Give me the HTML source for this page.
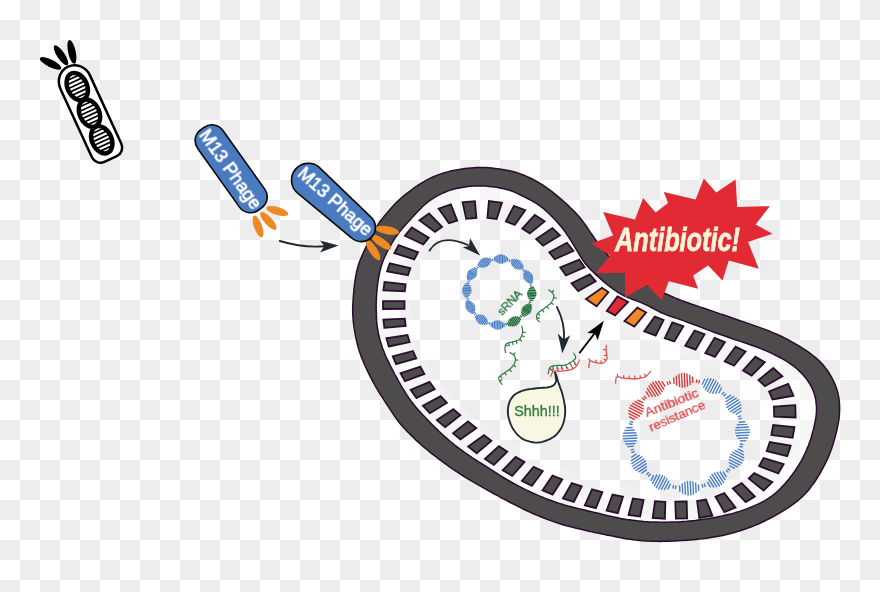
<!DOCTYPE html>
<html lang="en"><head><meta charset="utf-8"><title>M13 Phage sRNA antibiotic resistance silencing</title>
<style>html,body{margin:0;padding:0;background:#fff;overflow:hidden}body{width:880px;height:592px;font-family:"Liberation Sans",sans-serif}svg{display:block}text{font-family:"Liberation Sans",sans-serif}</style></head>
<body>
<svg width="880" height="592" viewBox="0 0 880 592">
<defs><pattern id="ck" width="40" height="40" patternUnits="userSpaceOnUse"><rect width="40" height="40" fill="#fff"/><rect x="20" width="20" height="20" fill="#ededed"/><rect y="20" width="20" height="20" fill="#ededed"/></pattern>
<filter id="gs" x="-20%" y="-50%" width="140%" height="200%"><feOffset dx="0" dy="0"/></filter>
<path id="inn" d="M480.0,185.9L483.0,185.9L486.0,186.1L489.0,186.4L491.9,186.7L494.9,187.1L497.9,187.6L500.8,188.2L503.8,188.8L506.7,189.5L509.5,190.3L512.3,191.3L515.1,192.4L517.7,193.7L520.4,195.0L523.1,196.3L525.8,197.7L528.4,199.0L531.1,200.4L533.7,201.9L536.3,203.4L538.8,205.1L541.2,206.8L543.5,208.7L545.8,210.6L548.0,212.7L550.2,214.7L552.3,216.9L554.4,219.0L556.4,221.2L558.4,223.4L560.4,225.7L562.3,228.0L564.1,230.4L565.8,232.8L567.5,235.3L569.2,237.8L570.8,240.4L572.3,242.9L573.9,245.5L575.4,248.1L577.0,250.7L578.5,253.2L580.1,255.8L581.7,258.3L583.3,260.8L585.1,263.2L586.9,265.6L588.9,267.8L591.0,270.0L593.1,272.0L595.3,274.1L597.5,276.1L599.8,278.1L602.0,280.1L604.3,282.1L606.5,284.0L608.9,285.9L611.3,287.7L613.7,289.5L616.2,291.2L618.7,292.8L621.3,294.3L623.9,295.7L626.6,296.9L629.4,298.1L632.2,299.3L635.0,300.3L637.8,301.4L640.6,302.4L643.3,303.6L646.1,304.8L648.8,306.1L651.4,307.5L654.0,308.9L656.7,310.3L659.3,311.7L662.0,313.0L664.8,314.1L667.6,315.2L670.4,316.2L673.2,317.2L676.1,318.1L678.9,319.1L681.7,320.1L684.6,321.1L687.4,322.2L690.2,323.2L693.0,324.3L695.8,325.3L698.6,326.4L701.4,327.4L704.2,328.5L707.1,329.6L709.9,330.6L712.7,331.7L715.5,332.7L718.3,333.7L721.1,334.8L724.0,335.8L726.8,336.7L729.6,337.7L732.5,338.7L735.3,339.7L738.2,340.6L741.0,341.6L743.9,342.5L746.7,343.5L749.5,344.5L752.4,345.5L755.2,346.5L758.0,347.5L760.8,348.6L763.6,349.7L766.3,350.9L769.1,352.1L771.8,353.4L774.5,354.8L777.2,356.1L779.8,357.5L782.5,358.9L785.1,360.4L787.6,361.9L790.1,363.6L792.6,365.3L795.0,367.1L797.2,369.0L799.4,371.1L801.5,373.2L803.6,375.4L805.5,377.7L807.3,380.1L808.9,382.5L810.5,385.1L811.9,387.7L813.1,390.4L814.1,393.2L814.9,396.0L815.6,398.9L816.0,401.9L816.3,404.9L816.5,407.8L816.5,410.8L816.3,413.8L816.0,416.7L815.5,419.7L815.0,422.6L814.3,425.6L813.7,428.5L812.9,431.4L812.1,434.3L811.3,437.2L810.4,440.0L809.4,442.8L808.3,445.7L807.2,448.4L806.0,451.2L804.8,453.9L803.5,456.6L802.1,459.3L800.7,461.9L799.1,464.5L797.5,467.0L795.9,469.5L794.2,472.0L792.4,474.4L790.6,476.8L788.8,479.2L786.8,481.5L784.9,483.7L782.8,485.9L780.8,488.1L778.6,490.2L776.4,492.2L774.2,494.2L771.8,496.0L769.4,497.7L766.8,499.3L764.3,500.8L761.6,502.3L759.0,503.6L756.2,504.9L753.5,506.1L750.7,507.3L747.9,508.4L745.1,509.4L742.3,510.4L739.5,511.4L736.6,512.2L733.7,513.1L730.8,513.9L727.9,514.6L725.0,515.3L722.1,516.0L719.1,516.6L716.2,517.2L713.2,517.8L710.3,518.3L707.3,518.8L704.4,519.2L701.4,519.6L698.4,520.0L695.4,520.4L692.4,520.7L689.5,521.0L686.5,521.3L683.5,521.5L680.5,521.7L677.5,521.9L674.5,522.0L671.5,522.1L668.5,522.2L665.5,522.2L662.5,522.2L659.5,522.2L656.5,522.1L653.5,522.0L650.5,521.9L647.5,521.7L644.5,521.5L641.5,521.2L638.5,520.9L635.5,520.6L632.6,520.2L629.6,519.8L626.6,519.4L623.7,518.9L620.7,518.4L617.8,517.8L614.8,517.2L611.9,516.6L608.9,515.9L606.0,515.3L603.1,514.6L600.2,513.8L597.3,513.1L594.4,512.4L591.4,511.7L588.5,511.0L585.6,510.3L582.7,509.6L579.8,508.9L576.8,508.2L573.9,507.5L571.0,506.7L568.1,506.0L565.2,505.2L562.3,504.3L559.5,503.5L556.6,502.5L553.8,501.5L551.0,500.5L548.2,499.5L545.4,498.4L542.6,497.2L539.8,496.1L537.1,494.9L534.3,493.7L531.6,492.5L528.9,491.2L526.1,489.9L523.5,488.6L520.8,487.2L518.1,485.8L515.5,484.4L512.8,483.0L510.2,481.5L507.6,480.0L505.0,478.5L502.4,477.0L499.9,475.4L497.4,473.7L494.9,472.1L492.4,470.5L489.9,468.8L487.3,467.2L484.8,465.6L482.2,464.0L479.7,462.4L477.2,460.8L474.6,459.2L472.1,457.6L469.6,455.9L467.1,454.2L464.7,452.5L462.3,450.7L459.8,448.9L457.5,447.1L455.1,445.3L452.7,443.4L450.4,441.5L448.1,439.5L445.9,437.6L443.6,435.6L441.4,433.5L439.2,431.5L437.1,429.4L434.9,427.3L432.8,425.2L430.7,423.1L428.6,420.9L426.5,418.8L424.4,416.6L422.4,414.4L420.4,412.2L418.4,409.9L416.4,407.7L414.5,405.4L412.6,403.0L410.8,400.7L409.0,398.2L407.3,395.7L405.7,393.2L404.2,390.7L402.6,388.1L401.1,385.5L399.6,382.9L398.1,380.3L396.7,377.6L395.2,375.0L393.8,372.4L392.4,369.7L391.0,367.1L389.7,364.4L388.4,361.7L387.1,359.0L385.8,356.2L384.7,353.5L383.6,350.7L382.5,347.9L381.6,345.0L380.7,342.2L379.8,339.3L379.1,336.4L378.4,333.5L377.9,330.5L377.4,327.6L377.0,324.6L376.7,321.6L376.5,318.6L376.4,315.6L376.3,312.6L376.2,309.6L376.2,306.6L376.2,303.6L376.3,300.6L376.5,297.6L376.6,294.6L376.9,291.7L377.1,288.7L377.5,285.7L377.8,282.7L378.3,279.7L378.8,276.8L379.4,273.8L380.0,270.9L380.8,268.0L381.6,265.2L382.6,262.3L383.6,259.5L384.8,256.8L386.1,254.1L387.4,251.4L388.8,248.7L390.3,246.1L391.8,243.5L393.3,240.9L394.9,238.4L396.6,235.9L398.3,233.5L400.2,231.1L402.1,228.8L404.0,226.6L406.0,224.3L408.0,222.1L410.1,219.9L412.1,217.6L414.1,215.4L416.1,213.2L418.2,211.0L420.3,208.9L422.4,206.8L424.6,204.8L426.9,202.8L429.3,201.0L431.7,199.3L434.2,197.7L436.8,196.1L439.4,194.7L442.1,193.4L444.9,192.2L447.6,191.1L450.5,190.1L453.3,189.3L456.2,188.6L459.2,187.9L462.1,187.4L465.1,186.9L468.0,186.5L471.0,186.2L474.0,186.0L477.0,185.9Z"/>
<clipPath id="incell"><use href="#inn"/></clipPath>
</defs>
<rect width="880" height="592" fill="url(#ck)"/>
<g clip-path="url(#incell)" fill="none" stroke="#fff" stroke-linejoin="round"><use href="#inn" stroke-opacity="0.18" stroke-width="68"/><use href="#inn" stroke-opacity="0.2" stroke-width="48"/><use href="#inn" stroke-opacity="0.22" stroke-width="28"/></g>
<path d="M480.0,167.5L483.0,167.5L486.0,167.6L489.0,167.8L492.0,168.1L495.0,168.4L497.9,168.8L500.9,169.2L503.9,169.7L506.8,170.2L509.8,170.7L512.7,171.4L515.6,172.2L518.4,173.1L521.2,174.1L524.0,175.3L526.7,176.4L529.5,177.7L532.2,179.0L534.8,180.3L537.5,181.8L540.1,183.3L542.6,184.9L545.1,186.6L547.5,188.3L550.0,190.1L552.3,191.9L554.7,193.8L557.0,195.7L559.3,197.6L561.6,199.6L563.8,201.5L566.1,203.6L568.3,205.6L570.4,207.7L572.6,209.8L574.7,211.9L576.7,214.1L578.7,216.3L580.6,218.6L582.5,221.0L584.3,223.4L586.0,225.8L587.8,228.3L589.4,230.8L591.1,233.3L592.8,235.7L594.5,238.2L596.3,240.6L598.1,243.0L599.9,245.4L601.8,247.8L603.6,250.1L605.6,252.4L607.5,254.7L609.5,256.9L611.5,259.2L613.6,261.3L615.7,263.5L617.9,265.6L620.1,267.6L622.3,269.5L624.7,271.4L627.1,273.2L629.5,274.9L632.0,276.6L634.6,278.1L637.2,279.6L639.8,281.1L642.4,282.6L645.1,284.0L647.8,285.3L650.4,286.7L653.1,288.0L655.9,289.3L658.6,290.6L661.3,291.8L664.0,293.1L666.8,294.3L669.5,295.5L672.3,296.7L675.0,297.9L677.8,299.0L680.6,300.1L683.4,301.2L686.2,302.2L689.1,303.2L691.9,304.2L694.8,305.1L697.6,306.1L700.4,307.1L703.3,308.0L706.1,309.0L709.0,310.0L711.8,310.9L714.6,311.9L717.5,312.9L720.3,313.9L723.2,314.8L726.0,315.8L728.9,316.8L731.7,317.8L734.5,318.7L737.4,319.7L740.2,320.7L743.1,321.6L745.9,322.6L748.7,323.6L751.6,324.6L754.4,325.6L757.2,326.6L760.1,327.6L762.9,328.6L765.7,329.6L768.5,330.7L771.3,331.9L774.0,333.1L776.8,334.3L779.5,335.5L782.2,336.8L784.9,338.1L787.6,339.5L790.2,340.9L792.9,342.3L795.5,343.8L798.0,345.4L800.6,347.0L803.1,348.6L805.6,350.2L808.1,351.9L810.5,353.7L812.9,355.5L815.3,357.4L817.5,359.3L819.7,361.4L821.8,363.5L823.8,365.7L825.6,368.1L827.4,370.5L829.0,373.0L830.6,375.6L832.0,378.2L833.4,380.8L834.7,383.6L835.8,386.3L836.8,389.1L837.7,392.0L838.3,394.9L838.9,397.8L839.2,400.8L839.5,403.8L839.6,406.7L839.6,409.7L839.5,412.7L839.3,415.7L839.0,418.7L838.6,421.7L838.0,424.6L837.4,427.6L836.8,430.5L836.1,433.4L835.3,436.3L834.5,439.2L833.7,442.1L832.8,444.9L831.9,447.8L830.9,450.6L829.8,453.4L828.7,456.2L827.5,459.0L826.2,461.7L824.9,464.4L823.5,467.0L822.1,469.7L820.6,472.3L819.1,474.9L817.5,477.4L815.9,480.0L814.3,482.5L812.5,484.9L810.7,487.3L808.9,489.7L806.9,491.9L804.9,494.1L802.8,496.3L800.6,498.3L798.3,500.3L796.0,502.1L793.6,503.9L791.2,505.7L788.7,507.3L786.2,509.0L783.6,510.6L781.1,512.2L778.5,513.7L775.9,515.2L773.3,516.6L770.6,518.0L767.9,519.4L765.3,520.7L762.5,522.0L759.8,523.3L757.0,524.5L754.3,525.6L751.5,526.7L748.7,527.8L745.9,528.8L743.0,529.8L740.2,530.7L737.3,531.6L734.4,532.5L731.5,533.3L728.6,534.0L725.7,534.7L722.8,535.4L719.8,536.0L716.9,536.6L713.9,537.1L711.0,537.6L708.0,538.0L705.0,538.4L702.1,538.8L699.1,539.1L696.1,539.4L693.1,539.7L690.1,540.0L687.1,540.2L684.1,540.4L681.1,540.6L678.1,540.8L675.1,541.0L672.1,541.1L669.1,541.2L666.1,541.3L663.1,541.3L660.1,541.4L657.1,541.3L654.1,541.3L651.1,541.2L648.1,541.1L645.1,540.9L642.1,540.7L639.1,540.4L636.2,540.1L633.2,539.7L630.2,539.3L627.2,538.9L624.3,538.4L621.3,537.8L618.4,537.3L615.4,536.7L612.5,536.1L609.5,535.5L606.6,534.9L603.7,534.3L600.7,533.7L597.8,533.1L594.8,532.5L591.9,531.8L589.0,531.2L586.0,530.5L583.1,529.8L580.2,529.1L577.3,528.4L574.4,527.7L571.5,527.0L568.5,526.2L565.6,525.5L562.8,524.7L559.9,523.8L557.0,522.9L554.2,521.9L551.4,520.9L548.5,519.9L545.7,518.8L543.0,517.7L540.2,516.5L537.4,515.4L534.6,514.2L531.9,513.0L529.2,511.7L526.4,510.5L523.7,509.2L521.0,507.9L518.3,506.6L515.6,505.2L513.0,503.9L510.3,502.5L507.6,501.1L505.0,499.7L502.3,498.3L499.7,496.8L497.1,495.4L494.4,494.0L491.8,492.5L489.1,491.1L486.5,489.6L483.9,488.2L481.3,486.7L478.7,485.2L476.1,483.7L473.5,482.2L470.9,480.7L468.3,479.1L465.8,477.6L463.2,476.0L460.7,474.4L458.2,472.7L455.7,471.1L453.2,469.4L450.7,467.7L448.2,465.9L445.8,464.2L443.4,462.4L441.0,460.7L438.6,458.8L436.2,457.0L433.8,455.2L431.4,453.3L429.1,451.4L426.8,449.5L424.5,447.6L422.2,445.6L420.0,443.6L417.7,441.6L415.5,439.6L413.4,437.5L411.2,435.4L409.1,433.3L407.0,431.2L404.9,429.0L402.9,426.8L400.9,424.5L399.0,422.2L397.2,419.8L395.4,417.4L393.7,414.9L392.1,412.4L390.4,409.9L388.8,407.4L387.1,404.9L385.5,402.4L383.9,399.9L382.2,397.3L380.6,394.8L379.0,392.3L377.5,389.7L375.9,387.1L374.5,384.5L373.0,381.9L371.6,379.2L370.2,376.6L368.9,373.9L367.6,371.2L366.3,368.5L365.0,365.7L363.8,363.0L362.7,360.2L361.6,357.4L360.5,354.6L359.5,351.8L358.6,348.9L357.8,346.0L357.1,343.1L356.4,340.2L355.8,337.3L355.2,334.3L354.7,331.4L354.2,328.4L353.8,325.4L353.4,322.5L353.1,319.5L352.9,316.5L352.7,313.5L352.7,310.5L352.7,307.5L352.8,304.5L353.0,301.5L353.2,298.5L353.4,295.5L353.7,292.5L353.9,289.5L354.3,286.6L354.6,283.6L355.0,280.6L355.5,277.6L356.0,274.7L356.6,271.8L357.3,268.8L358.1,266.0L359.1,263.1L360.1,260.3L361.2,257.5L362.4,254.8L363.6,252.0L364.9,249.3L366.2,246.6L367.5,243.9L368.9,241.2L370.3,238.6L371.6,235.9L373.0,233.2L374.5,230.6L376.0,228.0L377.5,225.4L379.1,222.9L380.8,220.5L382.7,218.1L384.6,215.8L386.5,213.5L388.5,211.2L390.4,209.0L392.4,206.8L394.5,204.5L396.6,202.4L398.7,200.3L400.9,198.3L403.2,196.3L405.5,194.4L407.9,192.6L410.3,190.8L412.7,189.0L415.1,187.2L417.6,185.5L420.1,183.9L422.6,182.3L425.2,180.8L427.8,179.4L430.5,178.1L433.3,176.8L436.0,175.7L438.8,174.6L441.7,173.6L444.5,172.7L447.4,171.9L450.3,171.1L453.2,170.5L456.2,169.9L459.1,169.4L462.1,168.9L465.1,168.5L468.0,168.2L471.0,167.9L474.0,167.7L477.0,167.5Z M480.0,185.9L483.0,185.9L486.0,186.1L489.0,186.4L491.9,186.7L494.9,187.1L497.9,187.6L500.8,188.2L503.8,188.8L506.7,189.5L509.5,190.3L512.3,191.3L515.1,192.4L517.7,193.7L520.4,195.0L523.1,196.3L525.8,197.7L528.4,199.0L531.1,200.4L533.7,201.9L536.3,203.4L538.8,205.1L541.2,206.8L543.5,208.7L545.8,210.6L548.0,212.7L550.2,214.7L552.3,216.9L554.4,219.0L556.4,221.2L558.4,223.4L560.4,225.7L562.3,228.0L564.1,230.4L565.8,232.8L567.5,235.3L569.2,237.8L570.8,240.4L572.3,242.9L573.9,245.5L575.4,248.1L577.0,250.7L578.5,253.2L580.1,255.8L581.7,258.3L583.3,260.8L585.1,263.2L586.9,265.6L588.9,267.8L591.0,270.0L593.1,272.0L595.3,274.1L597.5,276.1L599.8,278.1L602.0,280.1L604.3,282.1L606.5,284.0L608.9,285.9L611.3,287.7L613.7,289.5L616.2,291.2L618.7,292.8L621.3,294.3L623.9,295.7L626.6,296.9L629.4,298.1L632.2,299.3L635.0,300.3L637.8,301.4L640.6,302.4L643.3,303.6L646.1,304.8L648.8,306.1L651.4,307.5L654.0,308.9L656.7,310.3L659.3,311.7L662.0,313.0L664.8,314.1L667.6,315.2L670.4,316.2L673.2,317.2L676.1,318.1L678.9,319.1L681.7,320.1L684.6,321.1L687.4,322.2L690.2,323.2L693.0,324.3L695.8,325.3L698.6,326.4L701.4,327.4L704.2,328.5L707.1,329.6L709.9,330.6L712.7,331.7L715.5,332.7L718.3,333.7L721.1,334.8L724.0,335.8L726.8,336.7L729.6,337.7L732.5,338.7L735.3,339.7L738.2,340.6L741.0,341.6L743.9,342.5L746.7,343.5L749.5,344.5L752.4,345.5L755.2,346.5L758.0,347.5L760.8,348.6L763.6,349.7L766.3,350.9L769.1,352.1L771.8,353.4L774.5,354.8L777.2,356.1L779.8,357.5L782.5,358.9L785.1,360.4L787.6,361.9L790.1,363.6L792.6,365.3L795.0,367.1L797.2,369.0L799.4,371.1L801.5,373.2L803.6,375.4L805.5,377.7L807.3,380.1L808.9,382.5L810.5,385.1L811.9,387.7L813.1,390.4L814.1,393.2L814.9,396.0L815.6,398.9L816.0,401.9L816.3,404.9L816.5,407.8L816.5,410.8L816.3,413.8L816.0,416.7L815.5,419.7L815.0,422.6L814.3,425.6L813.7,428.5L812.9,431.4L812.1,434.3L811.3,437.2L810.4,440.0L809.4,442.8L808.3,445.7L807.2,448.4L806.0,451.2L804.8,453.9L803.5,456.6L802.1,459.3L800.7,461.9L799.1,464.5L797.5,467.0L795.9,469.5L794.2,472.0L792.4,474.4L790.6,476.8L788.8,479.2L786.8,481.5L784.9,483.7L782.8,485.9L780.8,488.1L778.6,490.2L776.4,492.2L774.2,494.2L771.8,496.0L769.4,497.7L766.8,499.3L764.3,500.8L761.6,502.3L759.0,503.6L756.2,504.9L753.5,506.1L750.7,507.3L747.9,508.4L745.1,509.4L742.3,510.4L739.5,511.4L736.6,512.2L733.7,513.1L730.8,513.9L727.9,514.6L725.0,515.3L722.1,516.0L719.1,516.6L716.2,517.2L713.2,517.8L710.3,518.3L707.3,518.8L704.4,519.2L701.4,519.6L698.4,520.0L695.4,520.4L692.4,520.7L689.5,521.0L686.5,521.3L683.5,521.5L680.5,521.7L677.5,521.9L674.5,522.0L671.5,522.1L668.5,522.2L665.5,522.2L662.5,522.2L659.5,522.2L656.5,522.1L653.5,522.0L650.5,521.9L647.5,521.7L644.5,521.5L641.5,521.2L638.5,520.9L635.5,520.6L632.6,520.2L629.6,519.8L626.6,519.4L623.7,518.9L620.7,518.4L617.8,517.8L614.8,517.2L611.9,516.6L608.9,515.9L606.0,515.3L603.1,514.6L600.2,513.8L597.3,513.1L594.4,512.4L591.4,511.7L588.5,511.0L585.6,510.3L582.7,509.6L579.8,508.9L576.8,508.2L573.9,507.5L571.0,506.7L568.1,506.0L565.2,505.2L562.3,504.3L559.5,503.5L556.6,502.5L553.8,501.5L551.0,500.5L548.2,499.5L545.4,498.4L542.6,497.2L539.8,496.1L537.1,494.9L534.3,493.7L531.6,492.5L528.9,491.2L526.1,489.9L523.5,488.6L520.8,487.2L518.1,485.8L515.5,484.4L512.8,483.0L510.2,481.5L507.6,480.0L505.0,478.5L502.4,477.0L499.9,475.4L497.4,473.7L494.9,472.1L492.4,470.5L489.9,468.8L487.3,467.2L484.8,465.6L482.2,464.0L479.7,462.4L477.2,460.8L474.6,459.2L472.1,457.6L469.6,455.9L467.1,454.2L464.7,452.5L462.3,450.7L459.8,448.9L457.5,447.1L455.1,445.3L452.7,443.4L450.4,441.5L448.1,439.5L445.9,437.6L443.6,435.6L441.4,433.5L439.2,431.5L437.1,429.4L434.9,427.3L432.8,425.2L430.7,423.1L428.6,420.9L426.5,418.8L424.4,416.6L422.4,414.4L420.4,412.2L418.4,409.9L416.4,407.7L414.5,405.4L412.6,403.0L410.8,400.7L409.0,398.2L407.3,395.7L405.7,393.2L404.2,390.7L402.6,388.1L401.1,385.5L399.6,382.9L398.1,380.3L396.7,377.6L395.2,375.0L393.8,372.4L392.4,369.7L391.0,367.1L389.7,364.4L388.4,361.7L387.1,359.0L385.8,356.2L384.7,353.5L383.6,350.7L382.5,347.9L381.6,345.0L380.7,342.2L379.8,339.3L379.1,336.4L378.4,333.5L377.9,330.5L377.4,327.6L377.0,324.6L376.7,321.6L376.5,318.6L376.4,315.6L376.3,312.6L376.2,309.6L376.2,306.6L376.2,303.6L376.3,300.6L376.5,297.6L376.6,294.6L376.9,291.7L377.1,288.7L377.5,285.7L377.8,282.7L378.3,279.7L378.8,276.8L379.4,273.8L380.0,270.9L380.8,268.0L381.6,265.2L382.6,262.3L383.6,259.5L384.8,256.8L386.1,254.1L387.4,251.4L388.8,248.7L390.3,246.1L391.8,243.5L393.3,240.9L394.9,238.4L396.6,235.9L398.3,233.5L400.2,231.1L402.1,228.8L404.0,226.6L406.0,224.3L408.0,222.1L410.1,219.9L412.1,217.6L414.1,215.4L416.1,213.2L418.2,211.0L420.3,208.9L422.4,206.8L424.6,204.8L426.9,202.8L429.3,201.0L431.7,199.3L434.2,197.7L436.8,196.1L439.4,194.7L442.1,193.4L444.9,192.2L447.6,191.1L450.5,190.1L453.3,189.3L456.2,188.6L459.2,187.9L462.1,187.4L465.1,186.9L468.0,186.5L471.0,186.2L474.0,186.0L477.0,185.9Z" fill="#4d4b4b" fill-rule="evenodd" stroke="#2a0d2e" stroke-width="1.5" stroke-linejoin="round"/>
<polygon points="383.4,290.4 404.8,291.4 405.7,284.4 384.5,281.9" fill="#4d4b4b" stroke="#2a0d2e" stroke-width="1.8" stroke-linejoin="miter"/>
<polygon points="387.1,271.4 408.0,275.2 410.4,268.2 389.8,263.3" fill="#4d4b4b" stroke="#2a0d2e" stroke-width="1.8" stroke-linejoin="miter"/>
<polygon points="394.3,253.2 414.3,259.4 418.1,252.3 398.6,245.2" fill="#4d4b4b" stroke="#2a0d2e" stroke-width="1.8" stroke-linejoin="miter"/>
<polygon points="404.8,235.8 423.3,244.3 428.8,237.7 411.7,227.5" fill="#4d4b4b" stroke="#2a0d2e" stroke-width="1.8" stroke-linejoin="miter"/>
<polygon points="419.4,220.3 435.0,231.9 442.1,226.9 429.1,213.5" fill="#4d4b4b" stroke="#2a0d2e" stroke-width="1.8" stroke-linejoin="miter"/>
<polygon points="438.5,208.6 448.9,223.3 457.2,220.6 450.9,204.4" fill="#4d4b4b" stroke="#2a0d2e" stroke-width="1.8" stroke-linejoin="miter"/>
<polygon points="462.6,202.3 466.2,218.9 476.4,218.0 474.9,201.2" fill="#4d4b4b" stroke="#2a0d2e" stroke-width="1.8" stroke-linejoin="miter"/>
<polygon points="488.9,201.1 487.4,218.0 496.7,219.1 501.9,202.7" fill="#4d4b4b" stroke="#2a0d2e" stroke-width="1.8" stroke-linejoin="miter"/>
<polygon points="513.9,205.9 505.8,221.5 514.8,224.9 525.3,210.1" fill="#4d4b4b" stroke="#2a0d2e" stroke-width="1.8" stroke-linejoin="miter"/>
<polygon points="534.8,214.9 522.3,228.6 529.7,233.5 544.7,221.4" fill="#4d4b4b" stroke="#2a0d2e" stroke-width="1.8" stroke-linejoin="miter"/>
<polygon points="552.5,228.1 536.2,239.1 543.1,245.7 560.0,235.3" fill="#4d4b4b" stroke="#2a0d2e" stroke-width="1.8" stroke-linejoin="miter"/>
<polygon points="567.0,242.8 549.3,252.3 554.8,259.2 573.5,250.9" fill="#4d4b4b" stroke="#2a0d2e" stroke-width="1.8" stroke-linejoin="miter"/>
<polygon points="579.3,259.6 560.3,267.5 565.9,275.5 584.6,267.3" fill="#4d4b4b" stroke="#2a0d2e" stroke-width="1.8" stroke-linejoin="miter"/>
<polygon points="589.8,274.4 571.5,283.2 578.2,291.0 595.7,281.3" fill="#4d4b4b" stroke="#2a0d2e" stroke-width="1.8" stroke-linejoin="miter"/>
<polygon points="602.1,287.8 586.0,298.9 596.6,306.3 608.4,292.1" fill="#ee8a25" stroke="#2a0d2e" stroke-width="1.8" stroke-linejoin="miter"/>
<polygon points="617.6,296.4 606.8,310.9 615.1,315.4 628.1,301.9" fill="#e12a33" stroke="#2a0d2e" stroke-width="1.8" stroke-linejoin="miter"/>
<polygon points="637.4,307.6 624.5,321.1 634.4,326.5 646.1,312.4" fill="#ee8a25" stroke="#2a0d2e" stroke-width="1.8" stroke-linejoin="miter"/>
<polygon points="654.8,316.6 644.2,331.3 655.7,335.6 663.6,319.9" fill="#4d4b4b" stroke="#2a0d2e" stroke-width="1.8" stroke-linejoin="miter"/>
<polygon points="672.3,322.4 664.8,338.3 674.3,341.5 683.4,326.2" fill="#4d4b4b" stroke="#2a0d2e" stroke-width="1.8" stroke-linejoin="miter"/>
<polygon points="694.6,330.5 685.2,345.7 695.6,349.6 704.6,334.2" fill="#4d4b4b" stroke="#2a0d2e" stroke-width="1.8" stroke-linejoin="miter"/>
<polygon points="714.6,337.9 705.3,353.1 715.0,357.0 725.0,342.1" fill="#4d4b4b" stroke="#2a0d2e" stroke-width="1.8" stroke-linejoin="miter"/>
<polygon points="735.5,346.7 724.7,361.3 734.0,365.7 745.6,351.5" fill="#4d4b4b" stroke="#2a0d2e" stroke-width="1.8" stroke-linejoin="miter"/>
<polygon points="755.4,356.7 743.0,370.5 751.6,375.6 764.8,362.3" fill="#4d4b4b" stroke="#2a0d2e" stroke-width="1.8" stroke-linejoin="miter"/>
<polygon points="773.3,368.0 758.4,380.1 764.9,386.2 782.4,376.4" fill="#4d4b4b" stroke="#2a0d2e" stroke-width="1.8" stroke-linejoin="miter"/>
<polygon points="788.2,383.8 769.1,391.5 772.5,399.4 793.5,395.7" fill="#4d4b4b" stroke="#2a0d2e" stroke-width="1.8" stroke-linejoin="miter"/>
<polygon points="795.3,405.2 773.9,406.6 774.2,416.7 795.6,417.5" fill="#4d4b4b" stroke="#2a0d2e" stroke-width="1.8" stroke-linejoin="miter"/>
<polygon points="794.5,427.1 773.2,425.0 771.4,435.1 792.6,437.8" fill="#4d4b4b" stroke="#2a0d2e" stroke-width="1.8" stroke-linejoin="miter"/>
<polygon points="790.7,445.7 769.8,442.1 766.7,451.0 787.2,456.1" fill="#4d4b4b" stroke="#2a0d2e" stroke-width="1.8" stroke-linejoin="miter"/>
<polygon points="783.6,464.2 763.6,458.0 759.1,466.1 778.3,473.5" fill="#4d4b4b" stroke="#2a0d2e" stroke-width="1.8" stroke-linejoin="miter"/>
<polygon points="772.4,482.1 754.2,473.1 748.7,478.5 763.6,490.6" fill="#4d4b4b" stroke="#2a0d2e" stroke-width="1.8" stroke-linejoin="miter"/>
<polygon points="754.8,496.5 741.7,483.1 732.8,488.4 745.7,502.0" fill="#4d4b4b" stroke="#2a0d2e" stroke-width="1.8" stroke-linejoin="miter"/>
<polygon points="735.5,507.5 724.3,493.1 715.5,496.7 724.4,512.1" fill="#4d4b4b" stroke="#2a0d2e" stroke-width="1.8" stroke-linejoin="miter"/>
<polygon points="712.4,515.7 706.0,499.6 697.1,501.0 699.3,517.9" fill="#4d4b4b" stroke="#2a0d2e" stroke-width="1.8" stroke-linejoin="miter"/>
<polygon points="687.1,518.3 686.7,501.4 675.3,501.7 675.9,518.6" fill="#4d4b4b" stroke="#2a0d2e" stroke-width="1.8" stroke-linejoin="miter"/>
<polygon points="664.9,518.7 665.4,501.8 655.0,501.2 652.7,518.0" fill="#4d4b4b" stroke="#2a0d2e" stroke-width="1.8" stroke-linejoin="miter"/>
<polygon points="640.1,516.6 643.6,499.9 632.9,498.4 628.5,514.9" fill="#4d4b4b" stroke="#2a0d2e" stroke-width="1.8" stroke-linejoin="miter"/>
<polygon points="617.9,513.1 623.0,496.6 612.5,494.5 606.6,510.7" fill="#4d4b4b" stroke="#2a0d2e" stroke-width="1.8" stroke-linejoin="miter"/>
<polygon points="595.9,508.2 602.4,492.1 592.0,489.3 584.8,505.3" fill="#4d4b4b" stroke="#2a0d2e" stroke-width="1.8" stroke-linejoin="miter"/>
<polygon points="573.8,502.0 581.7,486.3 571.8,483.0 562.9,498.4" fill="#4d4b4b" stroke="#2a0d2e" stroke-width="1.8" stroke-linejoin="miter"/>
<polygon points="552.7,494.6 562.3,479.5 552.5,475.5 542.5,490.4" fill="#4d4b4b" stroke="#2a0d2e" stroke-width="1.8" stroke-linejoin="miter"/>
<polygon points="532.0,485.8 542.8,471.2 533.6,466.8 521.9,481.0" fill="#4d4b4b" stroke="#2a0d2e" stroke-width="1.8" stroke-linejoin="miter"/>
<polygon points="512.2,475.8 524.5,461.9 515.7,456.9 502.7,470.3" fill="#4d4b4b" stroke="#2a0d2e" stroke-width="1.8" stroke-linejoin="miter"/>
<polygon points="493.9,464.9 507.3,451.7 498.9,446.2 484.9,459.0" fill="#4d4b4b" stroke="#2a0d2e" stroke-width="1.8" stroke-linejoin="miter"/>
<polygon points="476.7,453.3 491.4,440.9 484.0,435.1 468.2,446.5" fill="#4d4b4b" stroke="#2a0d2e" stroke-width="1.8" stroke-linejoin="miter"/>
<polygon points="460.3,439.4 476.3,428.2 468.1,421.3 453.0,433.3" fill="#4d4b4b" stroke="#2a0d2e" stroke-width="1.8" stroke-linejoin="miter"/>
<polygon points="445.0,427.2 460.3,415.3 453.3,409.2 436.8,420.1" fill="#4d4b4b" stroke="#2a0d2e" stroke-width="1.8" stroke-linejoin="miter"/>
<polygon points="429.8,413.2 446.9,402.9 440.6,396.1 422.9,405.7" fill="#4d4b4b" stroke="#2a0d2e" stroke-width="1.8" stroke-linejoin="miter"/>
<polygon points="416.5,398.0 434.8,389.1 429.5,381.8 410.6,389.9" fill="#4d4b4b" stroke="#2a0d2e" stroke-width="1.8" stroke-linejoin="miter"/>
<polygon points="405.0,381.1 424.4,373.9 420.3,366.7 400.5,373.2" fill="#4d4b4b" stroke="#2a0d2e" stroke-width="1.8" stroke-linejoin="miter"/>
<polygon points="396.1,364.1 416.3,358.4 413.0,351.0 392.7,356.4" fill="#4d4b4b" stroke="#2a0d2e" stroke-width="1.8" stroke-linejoin="miter"/>
<polygon points="388.8,346.5 409.6,342.1 407.5,335.1 386.4,338.3" fill="#4d4b4b" stroke="#2a0d2e" stroke-width="1.8" stroke-linejoin="miter"/>
<polygon points="384.4,327.9 405.7,325.9 404.8,318.6 383.4,319.6" fill="#4d4b4b" stroke="#2a0d2e" stroke-width="1.8" stroke-linejoin="miter"/>
<polygon points="383.0,309.0 404.5,308.8 404.5,301.1 383.0,301.1" fill="#4d4b4b" stroke="#2a0d2e" stroke-width="1.8" stroke-linejoin="miter"/>
<polygon points="591.2,243.4 613.1,235.6 603.1,211.9 635.0,219.4 643.1,198.1 655.6,212.5 668.1,203.1 663.8,191.9 695.6,199.4 703.8,178.5 716.2,192.5 735.6,179.4 737.2,206.9 769.8,206.2 755.6,224.4 772.5,233.8 748.1,241.9 758.8,268.8 728.8,260.6 722.5,280.6 708.1,265.6 693.1,275.6 698.1,288.8 668.8,281.2 661.9,300.0 646.9,285.0 625.0,297.5 625.0,273.1 595.6,273.1 610.0,255.6" fill="#e12a33"/>
<text filter="url(#gs)" x="677.5" y="251" text-anchor="middle" font-size="34" font-weight="bold" font-style="italic" fill="#fdf3d8" stroke="#fdf3d8" stroke-width="0.8" textLength="125" lengthAdjust="spacingAndGlyphs">Antibiotic!</text>
<ellipse cx="277.3" cy="211.0" rx="11.5" ry="4.0" fill="#ee8a25" transform="rotate(17.0 277.3 211.0)"/><ellipse cx="268.4" cy="220.9" rx="11.5" ry="4.0" fill="#ee8a25" transform="rotate(48.0 268.4 220.9)"/><ellipse cx="258.0" cy="226.4" rx="11.5" ry="4.0" fill="#ee8a25" transform="rotate(70.0 258.0 226.4)"/><g transform="translate(231.2,168.8) rotate(54.5)"><rect x="-49.5" y="-15.5" width="99.0" height="31.0" rx="13.5" fill="#4a7abf" stroke="#0a0a0a" stroke-width="1.6"/><text filter="url(#gs)" x="0.0" y="6.5" text-anchor="middle" font-size="18.3" fill="#fff" stroke="#fff" stroke-width="0.7" textLength="93.0" lengthAdjust="spacingAndGlyphs">M13 Phage</text></g>
<ellipse cx="387.2" cy="230.3" rx="12.0" ry="4.0" fill="#ee8a25" transform="rotate(10.0 387.2 230.3)"/><ellipse cx="381.2" cy="242.2" rx="12.0" ry="4.0" fill="#ee8a25" transform="rotate(35.0 381.2 242.2)"/><ellipse cx="373.0" cy="249.9" rx="12.0" ry="4.0" fill="#ee8a25" transform="rotate(57.0 373.0 249.9)"/><g transform="translate(333.8,202.9) rotate(41.8)"><path d="M-34.2,-16.8 L36.8,-14.2 A14.2,14.2 0 0 1 36.8,14.2 L-34.2,16.8 A16.8,16.8 0 0 1 -34.2,-16.8 Z" fill="#4a7abf" stroke="#0a0a0a" stroke-width="1.6"/><text filter="url(#gs)" x="0.2" y="4.2" text-anchor="middle" font-size="18.3" fill="#fff" stroke="#fff" stroke-width="0.7" textLength="93.0" lengthAdjust="spacingAndGlyphs">M13 Phage</text></g>
<ellipse cx="50.6" cy="63.4" rx="11.8" ry="3.8" fill="#000" transform="rotate(26.5 50.6 63.4)"/><ellipse cx="61.0" cy="55.3" rx="11.7" ry="3.8" fill="#000" transform="rotate(56.0 61.0 55.3)"/><ellipse cx="71.9" cy="51.9" rx="12.2" ry="3.8" fill="#000" transform="rotate(78.0 71.9 51.9)"/><g transform="translate(89.5,113.2) rotate(65.3)"><path d="M-34.2,-16.2 L41.0,-16.2 A9.5,9.5 0 0 1 50.5,-6.8 L50.5,6.8 A9.5,9.5 0 0 1 41.0,16.2 L-34.2,16.2 A17.1,16.2 0 0 1 -34.2,-16.2 Z" fill="#fff" stroke="#000" stroke-width="2.5"/><line x1="-39.0" y1="-7.2" x2="-39.0" y2="7.2" stroke="#000" stroke-width="1.7"/><line x1="-35.1" y1="-8.9" x2="-35.1" y2="8.9" stroke="#000" stroke-width="1.7"/><line x1="-31.2" y1="-9.7" x2="-31.2" y2="9.7" stroke="#000" stroke-width="1.7"/><line x1="-27.4" y1="-9.7" x2="-27.4" y2="9.7" stroke="#000" stroke-width="1.7"/><line x1="-23.5" y1="-8.9" x2="-23.5" y2="8.9" stroke="#000" stroke-width="1.7"/><line x1="-19.6" y1="-7.2" x2="-19.6" y2="7.2" stroke="#000" stroke-width="1.7"/><ellipse cx="-29.3" cy="0" rx="14.3" ry="9.8" fill="none" stroke="#000" stroke-width="4.4"/><line x1="-9.8" y1="-7.2" x2="-9.8" y2="7.2" stroke="#000" stroke-width="1.7"/><line x1="-5.8" y1="-8.9" x2="-5.8" y2="8.9" stroke="#000" stroke-width="1.7"/><line x1="-1.9" y1="-9.7" x2="-1.9" y2="9.7" stroke="#000" stroke-width="1.7"/><line x1="1.9" y1="-9.7" x2="1.9" y2="9.7" stroke="#000" stroke-width="1.7"/><line x1="5.8" y1="-8.9" x2="5.8" y2="8.9" stroke="#000" stroke-width="1.7"/><line x1="9.8" y1="-7.2" x2="9.8" y2="7.2" stroke="#000" stroke-width="1.7"/><ellipse cx="0.0" cy="0" rx="14.3" ry="9.8" fill="none" stroke="#000" stroke-width="4.4"/><line x1="19.6" y1="-7.2" x2="19.6" y2="7.2" stroke="#000" stroke-width="1.7"/><line x1="23.5" y1="-8.9" x2="23.5" y2="8.9" stroke="#000" stroke-width="1.7"/><line x1="27.4" y1="-9.7" x2="27.4" y2="9.7" stroke="#000" stroke-width="1.7"/><line x1="31.2" y1="-9.7" x2="31.2" y2="9.7" stroke="#000" stroke-width="1.7"/><line x1="35.1" y1="-8.9" x2="35.1" y2="8.9" stroke="#000" stroke-width="1.7"/><line x1="39.0" y1="-7.2" x2="39.0" y2="7.2" stroke="#000" stroke-width="1.7"/><ellipse cx="29.3" cy="0" rx="14.3" ry="9.8" fill="none" stroke="#000" stroke-width="4.4"/></g>
<path d="M530.1,287.2 L534.1,287.4M528.9,288.7 L535.1,289.1M528.0,290.3 L535.9,290.7M527.3,291.9 L536.4,292.4M527.0,293.5 L536.5,294.0M527.2,295.1 L536.2,295.6M527.6,296.7 L535.5,297.2M528.4,298.4 L534.6,298.7M529.4,300.1 L533.4,300.3M529.1,301.8 L531.3,302.5" stroke="#1d6a36" stroke-width="1.3" fill="none"/><path d="M528.4,303.5 L531.7,305.6M526.6,304.2 L531.8,307.6M525.0,305.1 L531.6,309.4M523.6,306.2 L531.2,311.1M522.6,307.4 L530.5,312.6M521.9,308.9 L529.5,313.8M521.5,310.5 L528.1,314.8M521.3,312.3 L526.5,315.7M521.4,314.3 L524.7,316.5M520.3,315.7 L521.8,317.4" stroke="#1d6a36" stroke-width="1.3" fill="none"/><path d="M518.9,316.7 L520.7,320.2M517.0,316.4 L519.8,322.0M515.1,316.4 L518.7,323.5M513.4,316.6 L517.5,324.7M511.9,317.2 L516.2,325.6M510.6,318.1 L514.7,326.2M509.4,319.3 L513.0,326.4M508.3,320.8 L511.2,326.4M507.4,322.6 L509.2,326.1M505.8,323.2 L506.3,325.4" stroke="#1d6a36" stroke-width="1.3" fill="none"/><path d="M504.1,323.3 L503.9,327.3M502.6,322.1 L502.3,328.3M501.0,321.2 L500.6,329.1M499.4,320.5 L499.0,329.6M497.8,320.2 L497.4,329.7M496.2,320.4 L495.8,329.4M494.6,320.8 L494.2,328.7M492.9,321.6 L492.6,327.8M491.3,322.6 L491.1,326.6M489.6,322.3 L488.9,324.5" stroke="#4b7ec5" stroke-width="1.3" fill="none"/><path d="M488.1,321.5 L485.9,324.8M487.3,319.7 L484.0,324.9M486.5,318.1 L482.1,324.7M485.4,316.8 L480.5,324.3M484.2,315.7 L479.0,323.7M482.7,315.0 L477.8,322.6M481.1,314.6 L476.7,321.2M479.2,314.4 L475.9,319.6M477.3,314.5 L475.1,317.8M476.0,313.3 L474.3,314.8" stroke="#4b7ec5" stroke-width="1.3" fill="none"/><path d="M475.0,311.8 L471.5,313.6M475.3,309.9 L469.8,312.7M475.3,308.1 L468.3,311.6M475.1,306.4 L467.0,310.5M474.6,304.8 L466.1,309.1M473.6,303.5 L465.6,307.6M472.4,302.3 L465.4,305.9M470.9,301.3 L465.4,304.1M469.2,300.3 L465.6,302.1M468.6,298.6 L466.4,299.1" stroke="#4b7ec5" stroke-width="1.3" fill="none"/><path d="M468.5,296.8 L464.5,296.6M469.7,295.3 L463.5,294.9M470.6,293.7 L462.7,293.3M471.3,292.1 L462.2,291.6M471.6,290.5 L462.1,290.0M471.4,288.9 L462.4,288.4M471.0,287.3 L463.1,286.8M470.2,285.6 L464.0,285.3M469.2,283.9 L465.2,283.7M469.5,282.2 L467.3,281.5" stroke="#4b7ec5" stroke-width="1.3" fill="none"/><path d="M470.2,280.5 L466.9,278.4M472.0,279.8 L466.8,276.4M473.6,278.9 L467.0,274.6M475.0,277.8 L467.4,272.9M476.0,276.6 L468.1,271.4M476.7,275.1 L469.1,270.2M477.1,273.5 L470.5,269.2M477.3,271.7 L472.1,268.3M477.2,269.7 L473.9,267.5M478.3,268.3 L476.8,266.6" stroke="#4b7ec5" stroke-width="1.3" fill="none"/><path d="M479.7,267.3 L477.9,263.8M481.6,267.6 L478.8,262.0M483.5,267.6 L479.9,260.5M485.2,267.4 L481.1,259.3M486.7,266.8 L482.4,258.4M488.0,265.9 L483.9,257.8M489.2,264.7 L485.6,257.6M490.3,263.2 L487.4,257.6M491.2,261.4 L489.4,257.9M492.8,260.8 L492.3,258.6" stroke="#4b7ec5" stroke-width="1.3" fill="none"/><path d="M494.5,260.7 L494.7,256.7M496.0,261.9 L496.3,255.7M497.6,262.8 L498.0,254.9M499.2,263.5 L499.6,254.4M500.8,263.8 L501.2,254.3M502.4,263.6 L502.8,254.6M504.0,263.2 L504.4,255.3M505.7,262.4 L506.0,256.2M507.3,261.4 L507.5,257.4M509.0,261.7 L509.7,259.5" stroke="#4b7ec5" stroke-width="1.3" fill="none"/><path d="M510.5,262.5 L512.7,259.2M511.3,264.3 L514.6,259.1M512.1,265.9 L516.5,259.3M513.2,267.2 L518.1,259.7M514.4,268.3 L519.6,260.3M515.9,269.0 L520.8,261.4M517.5,269.4 L521.9,262.8M519.4,269.6 L522.7,264.4M521.3,269.5 L523.5,266.2M522.6,270.7 L524.3,269.2" stroke="#4b7ec5" stroke-width="1.3" fill="none"/><path d="M523.6,272.2 L527.1,270.4M523.3,274.1 L528.8,271.3M523.3,275.9 L530.3,272.4M523.5,277.6 L531.6,273.5M524.0,279.2 L532.5,274.9M525.0,280.5 L533.0,276.4M526.2,281.7 L533.2,278.1M527.7,282.7 L533.2,279.9M529.4,283.7 L533.0,281.9M530.0,285.4 L532.2,284.9" stroke="#4b7ec5" stroke-width="1.3" fill="none"/>
<path d="M737.7,448.9 L743.5,451.8M734.8,450.4 L744.0,455.1M732.3,452.1 L744.1,458.1M730.4,454.2 L743.5,460.9M729.2,456.6 L742.3,463.3M728.7,459.3 L740.4,465.3M728.7,462.3 L737.9,467.1M729.2,465.6 L735.0,468.6M727.5,468.2 L730.2,470.6M725.9,470.0 L728.5,472.5" stroke="#4b7ec5" stroke-width="1.4" fill="none"/><path d="M723.0,471.6 L726.5,477.1M719.7,471.5 L725.3,480.2M716.7,471.8 L723.8,482.8M714.0,472.6 L722.0,484.9M711.7,474.0 L719.8,486.4M709.9,476.2 L717.1,487.2M708.4,478.8 L714.1,487.5M707.2,481.9 L710.7,487.3M704.2,483.5 L705.4,486.9M701.9,484.2 L702.9,487.6" stroke="#4b7ec5" stroke-width="1.4" fill="none"/><path d="M698.4,484.4 L698.7,490.9M695.6,482.6 L696.1,492.9M692.8,481.3 L693.5,494.5M690.1,480.7 L690.9,495.4M687.4,480.8 L688.2,495.6M684.8,481.8 L685.5,494.9M682.2,483.3 L682.7,493.7M679.6,485.4 L679.9,491.9M676.1,485.5 L675.4,489.0M673.7,485.0 L672.8,488.5" stroke="#4b7ec5" stroke-width="1.4" fill="none"/><path d="M670.5,483.7 L667.5,489.5M669.0,480.7 L664.3,490.0M667.2,478.3 L661.2,490.0M665.2,476.4 L658.5,489.5M662.8,475.1 L656.1,488.3M660.0,474.6 L654.1,486.3M657.0,474.6 L652.3,483.9M653.7,475.1 L650.8,480.9M650.7,473.8 L648.3,476.5M648.8,472.2 L646.4,474.8" stroke="#4b7ec5" stroke-width="1.4" fill="none"/><path d="M646.8,469.7 L641.4,473.3M647.0,466.4 L638.3,472.1M646.7,463.4 L635.7,470.6M645.9,460.7 L633.5,468.8M644.4,458.5 L632.1,466.5M642.3,456.6 L631.3,463.8M639.7,455.2 L631.0,460.8M636.6,453.9 L631.1,457.5M634.8,451.5 L631.4,452.6M634.0,449.2 L630.6,450.2" stroke="#4b7ec5" stroke-width="1.4" fill="none"/><path d="M633.7,446.2 L627.2,446.6M635.5,443.5 L625.2,444.0M636.8,440.7 L623.6,441.4M637.4,438.0 L622.7,438.8M637.3,435.3 L622.5,436.1M636.3,432.7 L623.2,433.3M634.8,430.0 L624.4,430.6M632.7,427.5 L626.2,427.8M632.6,424.5 L629.1,423.8M633.2,422.2 L629.7,421.4" stroke="#4b7ec5" stroke-width="1.4" fill="none"/><path d="M634.7,419.5 L628.9,416.6M637.6,418.0 L628.4,413.3M640.1,416.3 L628.3,410.3M642.0,414.2 L628.9,407.5M643.2,411.8 L630.1,405.1M643.7,409.1 L632.0,403.1M643.7,406.1 L634.5,401.3M643.2,402.8 L637.4,399.8M644.9,400.2 L642.2,397.8M646.5,398.4 L643.9,395.9" stroke="#db3b3b" stroke-width="1.4" fill="none"/><path d="M649.4,396.8 L645.9,391.3M652.7,396.9 L647.1,388.2M655.7,396.6 L648.6,385.6M658.4,395.8 L650.4,383.5M660.7,394.4 L652.6,382.0M662.5,392.2 L655.3,381.2M664.0,389.6 L658.3,380.9M665.2,386.5 L661.7,381.1M668.2,384.9 L667.0,381.5M670.5,384.2 L669.5,380.8" stroke="#db3b3b" stroke-width="1.4" fill="none"/><path d="M674.0,384.0 L673.7,377.5M676.8,385.8 L676.3,375.5M679.6,387.1 L678.9,373.9M682.3,387.7 L681.5,373.0M685.0,387.6 L684.2,372.8M687.6,386.6 L686.9,373.5M690.2,385.1 L689.7,374.7M692.8,383.0 L692.5,376.5M696.3,382.9 L697.0,379.4M698.7,383.4 L699.6,379.9" stroke="#db3b3b" stroke-width="1.4" fill="none"/><path d="M701.9,384.7 L704.9,378.9M703.4,387.7 L708.1,378.4M705.2,390.1 L711.2,378.4M707.2,392.0 L713.9,378.9M709.6,393.3 L716.3,380.1M712.4,393.8 L718.3,382.1M715.4,393.8 L720.1,384.5M718.7,393.3 L721.6,387.5M721.7,394.6 L724.1,391.9M723.6,396.2 L726.0,393.6" stroke="#4b7ec5" stroke-width="1.4" fill="none"/><path d="M725.6,398.7 L731.0,395.1M725.4,402.0 L734.1,396.3M725.7,405.0 L736.7,397.8M726.5,407.7 L738.9,399.6M728.0,409.9 L740.3,401.9M730.1,411.8 L741.1,404.6M732.7,413.2 L741.4,407.6M735.8,414.5 L741.3,410.9M737.6,416.9 L741.0,415.8M738.4,419.2 L741.8,418.2" stroke="#4b7ec5" stroke-width="1.4" fill="none"/><path d="M738.7,422.2 L745.2,421.8M736.9,424.9 L747.2,424.4M735.6,427.7 L748.8,427.0M735.0,430.4 L749.7,429.6M735.1,433.1 L749.9,432.3M736.1,435.7 L749.2,435.1M737.6,438.4 L748.0,437.8M739.7,440.9 L746.2,440.6M739.8,443.9 L743.3,444.6M739.2,446.2 L742.7,447.0" stroke="#4b7ec5" stroke-width="1.4" fill="none"/>
<path d="M279.8,241 Q305,248.5 326,246" fill="none" stroke="#1e2b33" stroke-width="1.9" stroke-linecap="round"/>
<polygon points="338.6,245.6 320,240.5 324.3,246.1 320,252.4" fill="#1e2b33"/>
<path d="M429.6,250.6 Q440,233 468,245" fill="none" stroke="#1e2b33" stroke-width="1.9" stroke-linecap="round"/>
<polygon points="480.1,255.5 470.1,238.2 469,246 462.8,247.3" fill="#1e2b33"/>
<path d="M556.9,306.9 Q565.5,324 563.9,341" fill="none" stroke="#1e2b33" stroke-width="1.9" stroke-linecap="round"/>
<polygon points="562.3,353.3 557.8,333.5 563.8,339.5 570.3,335.3" fill="#1e2b33"/>
<path d="M579.4,353.1 L596,331.5" fill="none" stroke="#000" stroke-width="1.8"/>
<polygon points="603.9,320.8 587.3,333 595,333.6 597.6,340.3" fill="#000"/>
<path d="M555.0,371.8L555.3,372.7L555.6,373.8L556.1,375.1L556.6,376.6L557.1,378.2L557.6,379.9L558.1,381.5L558.6,383.0L559.1,384.4L559.6,385.9L560.1,387.3L560.7,388.8L561.2,390.2L561.7,391.8L562.2,393.4L562.6,395.0L563.0,396.7L563.5,398.6L563.9,400.4L564.3,402.4L564.6,404.3L564.9,406.2L565.1,408.2L565.2,410.0L565.2,411.8L565.1,413.6L564.9,415.5L564.7,417.2L564.4,419.0L564.0,420.7L563.5,422.4L563.0,424.0L562.4,425.6L561.7,427.1L560.9,428.6L560.0,430.0L559.1,431.4L558.1,432.7L557.1,433.9L556.0,435.0L554.8,436.0L553.5,437.0L552.1,437.8L550.7,438.6L549.3,439.3L547.8,439.9L546.4,440.5L545.0,441.0L543.7,441.4L542.4,441.8L541.2,442.1L539.9,442.4L538.6,442.5L537.3,442.6L536.0,442.6L534.6,442.5L533.1,442.3L531.5,442.0L529.9,441.7L528.2,441.2L526.6,440.7L525.0,440.1L523.4,439.3L522.0,438.5L520.6,437.5L519.3,436.4L518.0,435.2L516.7,433.9L515.6,432.5L514.5,431.0L513.4,429.5L512.5,428.0L511.7,426.4L510.9,424.7L510.2,422.9L509.6,421.1L509.0,419.3L508.6,417.4L508.2,415.7L508.0,414.0L507.9,412.4L507.9,410.8L507.9,409.2L508.1,407.6L508.4,406.1L508.7,404.6L509.1,403.3L509.5,402.0L510.0,400.8L510.5,399.7L511.1,398.7L511.8,397.8L512.5,396.9L513.3,396.0L514.1,395.2L515.0,394.5L515.9,393.8L516.9,393.2L518.0,392.6L519.1,392.1L520.2,391.6L521.4,391.1L522.7,390.7L524.0,390.3L525.4,389.9L526.9,389.6L528.4,389.3L530.0,389.1L531.7,388.9L533.3,388.7L534.9,388.5L536.4,388.3L537.9,388.1L539.5,388.0L541.1,387.9L542.6,387.8L544.1,387.7L545.5,387.6L546.8,387.5L548.0,387.3L549.0,387.1L550.0,386.8L550.8,386.6L551.6,386.3L552.3,385.9L552.9,385.6L553.5,385.2L554.0,384.8L554.5,384.3L554.9,383.8L555.2,383.1L555.5,382.5L555.8,381.9L556.0,381.3L556.1,380.8L556.3,380.5Z" fill="#f7f7e3" stroke="#1e2b33" stroke-width="1.9" stroke-linejoin="miter"/>
<text filter="url(#gs)" x="537" y="415.8" text-anchor="middle" font-size="14.3" fill="#2e7a3c" stroke="#2e7a3c" stroke-width="0.3" textLength="45.5" lengthAdjust="spacingAndGlyphs">Shhh!!!</text>
<text filter="url(#gs)" transform="translate(502,316) rotate(-46)" font-size="11.5" fill="#1f6d36" stroke="#1f6d36" stroke-width="0.3" textLength="30" lengthAdjust="spacingAndGlyphs">sRNA</text>
<text filter="url(#gs)" transform="translate(646.9,417.25) rotate(-21.8)" font-size="13.2" fill="#d93a3a" stroke="#d93a3a" stroke-width="0.2" textLength="56.5" lengthAdjust="spacingAndGlyphs">Antibiotic</text>
<text filter="url(#gs)" transform="translate(651.25,431.9) rotate(-23.5)" font-size="13.2" fill="#d93a3a" stroke="#d93a3a" stroke-width="0.2" textLength="60" lengthAdjust="spacingAndGlyphs">resistance</text>
<path d="M548.8,290.0L549.1,290.3L549.6,290.6L550.1,291.1L550.8,291.5L551.4,292.0L552.1,292.6L552.6,293.2L553.2,293.8L553.5,294.4L553.8,295.0L553.8,295.7L553.8,296.4L553.7,297.1L553.5,297.9L553.3,298.7L553.0,299.5L552.6,300.3L552.2,301.0L551.7,301.8L551.2,302.5L550.7,303.2L550.1,303.9L549.3,304.5L548.5,305.1L547.7,305.8L546.9,306.4L546.1,307.0L545.2,307.6L544.5,308.2L543.8,308.8L543.0,309.3L542.3,309.8L541.6,310.3L540.9,310.8L540.2,311.3L539.5,311.8L538.9,312.3L538.4,312.8L537.9,313.3L537.5,313.8L537.2,314.3L537.0,314.8L536.8,315.3L536.7,315.8L536.6,316.4L536.6,316.9L536.7,317.4L536.7,317.9L536.8,318.3L536.9,318.8L537.0,319.2L537.2,319.5L537.5,319.9L537.8,320.3L538.1,320.6L538.4,320.9L538.7,321.2L539.0,321.5L539.2,321.7L539.4,321.9M551.9,292.5 L553.6,290.5M553.6,297.5 L556.2,298.1M551.1,302.6 L553.1,304.3M546.9,306.4 L548.4,308.5M542.3,309.9 L543.8,312.0M537.8,313.4 L539.8,315.0M536.9,318.8 L539.3,317.9" fill="none" stroke="#2a7a3e" stroke-width="1.2" stroke-linecap="round" stroke-linejoin="round"/>
<path d="M521.9,326.2L521.9,326.6L522.0,327.1L522.1,327.6L522.3,328.3L522.4,328.9L522.5,329.7L522.6,330.4L522.6,331.1L522.6,331.8L522.5,332.5L522.4,333.2L522.2,333.9L522.0,334.7L521.7,335.4L521.4,336.2L521.1,336.9L520.7,337.6L520.3,338.3L519.9,338.9L519.4,339.4L518.8,339.8L518.2,340.2L517.6,340.5L516.9,340.7L516.1,340.9L515.4,341.1L514.6,341.3L513.9,341.5L513.2,341.7L512.5,341.9L511.8,342.1L511.1,342.2L510.4,342.4L509.7,342.5L509.0,342.7L508.4,342.8L507.7,343.0L507.2,343.2L506.7,343.4L506.2,343.8L505.9,344.1L505.7,344.6L505.4,345.1L505.3,345.6L505.2,346.1L505.1,346.7L505.1,347.2L505.1,347.8L505.0,348.3L505.0,348.8L505.0,349.2L505.0,349.6L505.1,350.1L505.1,350.5L505.2,350.9L505.3,351.3L505.4,351.7L505.5,352.0L505.6,352.3L505.6,352.5M522.6,332.0 L525.3,332.3M521.6,335.8 L524.2,336.8M519.6,339.1 L521.6,341.1M516.2,340.9 L517.0,343.6M512.4,341.9 L513.1,344.6M508.6,342.7 L509.3,345.5M505.5,344.8 L508.1,346.0" fill="none" stroke="#2a7a3e" stroke-width="1.2" stroke-linecap="round" stroke-linejoin="round"/>
<path d="M510.0,352.5L510.3,352.7L510.8,353.1L511.3,353.4L511.9,353.8L512.5,354.3L513.2,354.7L513.8,355.2L514.3,355.8L514.7,356.3L515.0,356.9L515.2,357.5L515.3,358.1L515.4,358.8L515.4,359.5L515.4,360.2L515.3,360.9L515.1,361.7L514.9,362.4L514.7,363.1L514.4,363.8L514.0,364.4L513.6,365.1L513.1,365.7L512.6,366.4L512.0,367.0L511.4,367.6L510.7,368.2L510.1,368.8L509.4,369.4L508.8,370.0L508.1,370.6L507.3,371.1L506.5,371.6L505.6,372.1L504.8,372.7L504.0,373.2L503.2,373.6L502.5,374.1L501.8,374.6L501.2,375.0L500.8,375.4L500.3,375.8L500.0,376.2L499.6,376.5L499.3,376.8L499.1,377.2L498.9,377.5L498.8,377.9L498.7,378.3L498.8,378.8L498.8,379.3L499.1,379.8L499.4,380.5L499.7,381.1L500.2,381.8L500.6,382.4L501.0,383.0L501.4,383.6L501.7,384.0L501.9,384.4M513.3,354.8 L515.0,352.9M515.4,359.9 L518.0,360.0M513.5,365.2 L515.6,366.7M509.5,369.3 L511.2,371.3M504.8,372.6 L506.2,374.8M500.2,375.9 L502.0,377.8M499.7,381.0 L502.0,379.8" fill="none" stroke="#2a7a3e" stroke-width="1.2" stroke-linecap="round" stroke-linejoin="round"/>
<path d="M548.1,373.8L548.2,373.4L548.3,372.8L548.5,372.2L548.6,371.5L548.8,370.7L548.9,370.0L549.1,369.3L549.4,368.6L549.7,368.0L550.0,367.5L550.4,367.1L550.7,366.8L551.1,366.6L551.5,366.4L552.0,366.2L552.5,366.1L553.0,366.0L553.6,365.9L554.3,365.7L555.0,365.6L555.8,365.5L556.7,365.5L557.8,365.4L558.8,365.4L559.9,365.4L561.0,365.4L562.1,365.3L563.2,365.3L564.1,365.2L565.0,365.0L565.8,364.8L566.5,364.5L567.2,364.3L567.9,364.0L568.5,363.6L569.1,363.3L569.6,362.9L570.2,362.6L570.7,362.2L571.2,361.9L571.8,361.5L572.3,361.2L572.9,360.8L573.4,360.5L573.9,360.1L574.4,359.7L574.8,359.4L575.2,359.0L575.4,358.6L575.6,358.1L575.7,357.7L575.6,357.1L575.5,356.6L575.2,356.0L575.0,355.4L574.7,354.8L574.4,354.3L574.1,353.8L573.9,353.4L573.8,353.1M549.4,368.6 L552.5,369.9M552.7,366.0 L553.4,369.4M557.0,365.5 L557.2,368.8M561.4,365.4 L561.6,368.8M565.7,364.8 L566.6,368.1M569.7,362.9 L571.5,365.8M573.4,360.5 L575.3,363.3" fill="none" stroke="#2a7a3e" stroke-width="1.2" stroke-linecap="round" stroke-linejoin="round"/>
<path d="M550.6,376.2L550.8,375.9L551.0,375.5L551.2,375.0L551.5,374.4L551.8,373.8L552.1,373.1L552.5,372.5L552.9,372.0L553.3,371.6L553.8,371.2L554.2,371.1L554.7,371.0L555.3,370.9L555.8,370.9L556.4,371.0L557.1,371.1L557.8,371.2L558.5,371.2L559.2,371.3L560.0,371.2L560.9,371.2L561.8,371.1L562.8,371.0L563.9,371.0L565.0,370.9L566.1,370.7L567.2,370.6L568.2,370.4L569.1,370.2L570.0,370.0L570.8,369.7L571.5,369.5L572.2,369.1L572.9,368.8L573.6,368.4L574.2,368.1L574.7,367.6L575.3,367.2L575.8,366.7L576.2,366.2L576.7,365.7L577.1,365.1L577.5,364.4L577.9,363.6L578.2,362.9L578.5,362.2L578.8,361.5L579.0,360.9L579.2,360.4L579.4,360.0M553.1,371.8 L550.8,369.5M557.9,371.2 L558.1,368.0M563.0,371.0 L562.8,367.8M568.1,370.4 L567.6,367.3M572.9,368.8 L571.5,365.9M576.8,365.6 L574.2,363.8" fill="none" stroke="#e04848" stroke-width="1.2" stroke-linecap="round" stroke-linejoin="round"/>
<path d="M588.8,367.5L588.8,367.1L588.9,366.5L588.9,365.8L589.0,365.1L589.1,364.3L589.2,363.5L589.3,362.8L589.5,362.1L589.7,361.6L590.0,361.2L590.3,361.1L590.7,361.0L591.1,361.1L591.6,361.2L592.1,361.4L592.6,361.7L593.2,361.9L593.8,362.2L594.4,362.4L595.0,362.5L595.7,362.6L596.4,362.7L597.2,362.9L598.0,363.0L598.8,363.2L599.6,363.3L600.4,363.3L601.2,363.3L601.9,363.3L602.5,363.1L603.1,362.9L603.7,362.6L604.2,362.3L604.7,361.9L605.2,361.4L605.6,361.0L606.0,360.4L606.4,359.9L606.7,359.3L606.9,358.8L607.0,358.1L607.1,357.4L607.0,356.7L607.0,355.9L606.8,355.1L606.7,354.3L606.5,353.5L606.4,352.7L606.3,352.0L606.2,351.2L606.2,350.5L606.2,349.8L606.2,349.1L606.2,348.4L606.2,347.7L606.2,347.0L606.2,346.4L606.2,345.8L606.2,345.4L606.2,345.0M590.3,361.1 L588.9,358.9M595.7,362.6 L596.1,360.1M601.3,363.3 L601.0,360.7M606.0,360.5 L603.9,359.0M606.8,355.1 L604.3,355.5M606.2,349.5 L603.6,349.6" fill="none" stroke="#e04848" stroke-width="1.2" stroke-linecap="round" stroke-linejoin="round"/>
<path d="M615.6,383.1L615.7,382.7L615.7,382.2L615.7,381.5L615.8,380.7L615.8,379.9L615.9,379.1L616.0,378.4L616.2,377.7L616.5,377.2L616.9,376.9L617.3,376.7L617.8,376.7L618.4,376.7L619.0,376.9L619.7,377.1L620.4,377.3L621.2,377.6L622.0,377.8L622.9,378.0L623.8,378.1L624.7,378.2L625.7,378.3L626.8,378.4L628.0,378.5L629.2,378.6L630.4,378.7L631.6,378.8L632.8,378.8L633.9,378.8L635.0,378.8L636.1,378.7L637.2,378.6L638.2,378.5L639.3,378.4L640.4,378.2L641.4,378.0L642.4,377.8L643.3,377.5L644.2,377.2L645.0,376.9L645.8,376.4L646.5,375.9L647.2,375.3L647.8,374.6L648.4,373.9L649.0,373.3L649.5,372.6L649.9,372.1L650.3,371.6L650.6,371.2M617.8,376.7 L617.4,374.1M623.4,378.1 L623.8,375.5M629.1,378.6 L629.3,376.0M634.8,378.8 L634.8,376.2M640.6,378.2 L640.1,375.6M646.0,376.3 L644.4,374.2" fill="none" stroke="#e04848" stroke-width="1.2" stroke-linecap="round" stroke-linejoin="round"/>
</svg>
</body></html>
